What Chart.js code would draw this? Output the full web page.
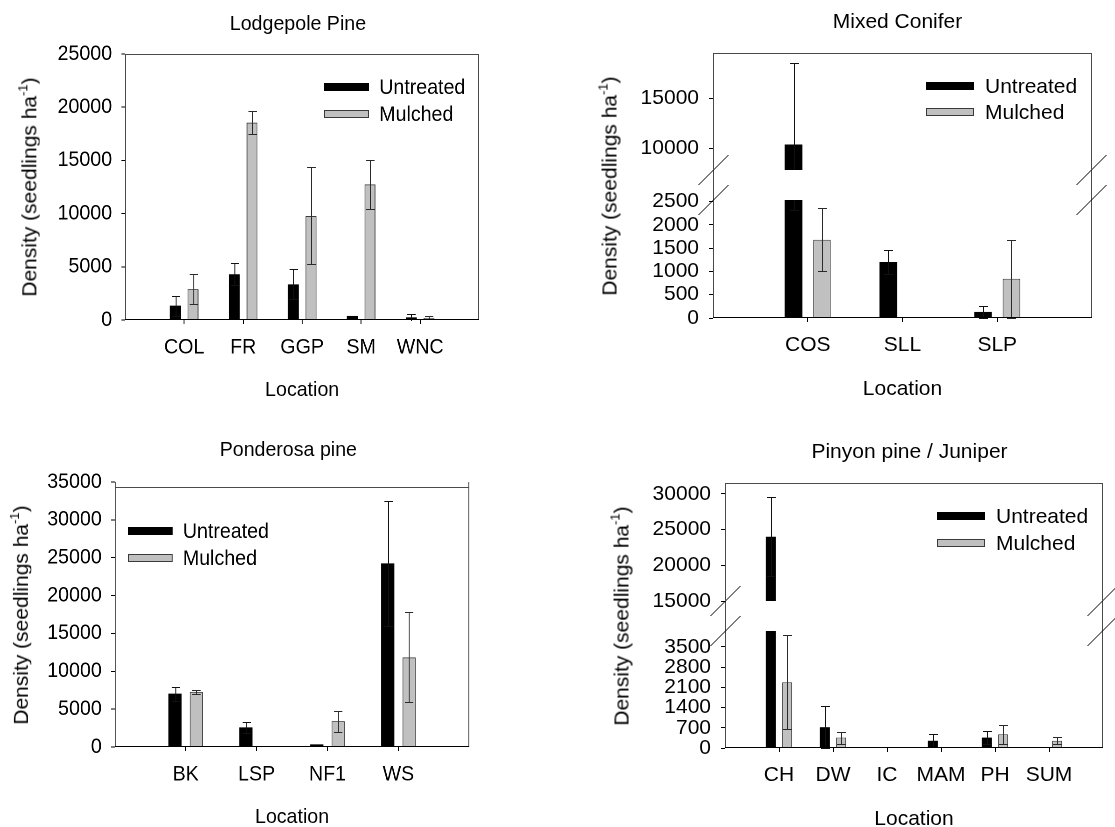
<!DOCTYPE html>
<html><head><meta charset="utf-8">
<script src="https://cdn.jsdelivr.net/npm/chart.js@4.4.1/dist/chart.umd.min.js"></script>
<style>
html,body{margin:0;padding:0;background:#fff;overflow:hidden;width:1115px;height:827px;}
#fig{position:relative;width:1115px;height:827px;overflow:hidden;}
.grp{position:absolute;left:0;top:0;width:1115px;height:827px;transform-origin:0 0;}
canvas{position:absolute;}
.t{position:absolute;font-family:'Liberation Sans',Arial,Helvetica,sans-serif;font-size:21px;line-height:1;color:#000;white-space:nowrap;transform:translate(-50%,-50%);}
.yt{transform:translate(-50%,-50%) rotate(-90deg);}
.sup{font-size:13px;position:relative;top:-9px;}
</style></head><body><div id="fig"></div>
<script>
// ---------------- data ----------------
const seriesNames = ['Untreated', 'Mulched'];

const lpCategories = ['COL', 'FR', 'GGP', 'SM', 'WNC'];
const lpUntreated = [1350, 4300, 3350, 380, 250];
const lpUntreatedErr = [950, 1050, 1400, 0, 300];
const lpMulched = [2900, 18550, 9780, 12750, 200];
const lpMulchedErr = [1400, 1080, 4560, 2300, 130];
const lpRange = [0, 25000];
const lpTicks = [0, 5000, 10000, 15000, 20000, 25000];

const mcCategories = ['COS', 'SLL', 'SLP'];
const mcUntreated = [10400, 1200, 130];
const mcUntreatedErr = [8090, 250, 120];
const mcMulched = [1680, 0, 840];
const mcMulchedErr = [670, 0, 840];
const mcUpperRange = [7860, 19480];
const mcUpperTicks = [10000, 15000];
const mcLowerRange = [0, 2530];
const mcLowerTicks = [0, 500, 1000, 1500, 2000, 2500];

const ppCategories = ['BK', 'LSP', 'NF1', 'WS'];
const ppUntreated = [7050, 2600, 350, 24250];
const ppUntreatedErr = [930, 700, 0, 8300];
const ppMulched = [7280, 0, 3420, 11830];
const ppMulchedErr = [310, 0, 1400, 5950];
const ppRange = [0, 35000];
const ppTicks = [0, 5000, 10000, 15000, 20000, 25000, 30000, 35000];

const pjCategories = ['CH', 'DW', 'IC', 'MAM', 'PH', 'SUM'];
const pjUntreated = [24000, 720, 0, 250, 360, 0];
const pjUntreatedErr = [5500, 730, 0, 230, 230, 0];
const pjMulched = [2280, 360, 0, 0, 480, 250];
const pjMulchedErr = [1620, 210, 0, 0, 330, 115];
const pjUpperRange = [15000, 31500];
const pjUpperTicks = [15000, 20000, 25000, 30000];
const pjLowerRange = [0, 4050];
const pjLowerTicks = [0, 700, 1400, 2100, 2800, 3500];

// ---------------- styling ----------------
const FONT = "'Liberation Sans', Arial, Helvetica, sans-serif";
const FS = 21;
const YW = 110, XH = 50;
const BLACK = '#000000', GRAY_FILL = '#c0c0c0', GRAY_EDGE = '#3a3a3a', FRAME = '#4a4a4a';
const fig = document.getElementById('fig');

function addGroup(sx) {
  const g = document.createElement('div');
  g.className = 'grp';
  g.style.transform = 'scaleX(' + sx + ')';
  fig.appendChild(g);
  return g;
}
function addCanvas(parent, left, top, w, h) {
  const c = document.createElement('canvas');
  c.width = w; c.height = h;
  c.style.left = left + 'px'; c.style.top = top + 'px';
  c.style.width = w + 'px'; c.style.height = h + 'px';
  parent.appendChild(c);
  return c;
}
function addText(parent, txt, x, y, cls) {
  const d = document.createElement('div');
  d.className = 't' + (cls ? ' ' + cls : '');
  d.style.left = x + 'px'; d.style.top = y + 'px';
  d.innerHTML = txt;
  parent.appendChild(d);
}

function panel(parent, cfg) {
  const {box, cats, un, unErr, mu, muErr, range, ticks, showX, gap = 0, topOffset = 0, drawTop = true, legend = null, dpr = 1} = cfg;
  const padTop = 30 + gap, padRight = 25, padBottom = showX ? 0 : 30;
  const w = box.R - box.L, h = box.B - box.T;
  const cw = YW + w + padRight, ch = padTop + h + (showX ? XH : padBottom);
  const canvas = addCanvas(parent, box.L - YW, box.T - padTop, cw, ch);
  const labels = ['', ...cats, ''];
  const padA = arr => [null, ...arr, null];
  const nL = labels.length;

  const errorPlugin = {
    id: 'errbars',
    afterDatasetsDraw(chart) {
      const {ctx, chartArea: a} = chart; const ys = chart.scales.y;
      ctx.save();
      ctx.beginPath(); ctx.rect(a.left - 6, a.top, a.right - a.left + 12, a.bottom - a.top + (showX ? 1 : 0)); ctx.clip();
      ctx.lineWidth = 1;
      chart.data.datasets.forEach((ds, di) => {
        const meta = chart.getDatasetMeta(di);
        ctx.strokeStyle = ds.errorColor;
        meta.data.forEach((bar, i) => {
          const v = ds.data[i], e = ds.errors[i];
          if (v == null || !e) return;
          const x = Math.round(bar.x) + 0.5;
          const y1 = Math.round(ys.getPixelForValue(v + e)) + 0.5;
          const y2 = Math.round(ys.getPixelForValue(v - e)) + 0.5;
          ctx.beginPath();
          ctx.moveTo(x, y1); ctx.lineTo(x, y2);
          ctx.moveTo(x - 4.5, y1); ctx.lineTo(x + 4.5, y1);
          ctx.moveTo(x - 4.5, y2); ctx.lineTo(x + 4.5, y2);
          ctx.stroke();
        });
      });
      ctx.restore();
    }
  };

  const framePlugin = {
    id: 'frame',
    afterDraw(chart) {
      const {ctx, chartArea: a} = chart;
      const L = Math.round(a.left) + 0.5, R = Math.round(a.right) - 0.5;
      const T = Math.round(a.top), B = Math.round(a.bottom) - 0.5;
      ctx.save();
      ctx.lineWidth = 1;
      ctx.strokeStyle = FRAME;
      ctx.beginPath();
      ctx.moveTo(L, T - gap); ctx.lineTo(L, B);
      ctx.moveTo(R, T - gap); ctx.lineTo(R, B);
      if (drawTop) { ctx.moveTo(L, T + topOffset + 0.5); ctx.lineTo(R, T + topOffset + 0.5); }
      ctx.stroke();
      if (showX) {
        ctx.strokeStyle = BLACK;
        ctx.beginPath(); ctx.moveTo(L - 0.5, B); ctx.lineTo(R + 0.5, B); ctx.stroke();
      }
      if (gap) {
        ctx.strokeStyle = BLACK;
        ctx.beginPath();
        [L, R].forEach(x => {
          [T, T - gap].forEach(y => { ctx.moveTo(x - 15, y + 15); ctx.lineTo(x + 15, y - 15); });
        });
        ctx.stroke();
      }
      if (legend) {
        chart.data.datasets.forEach((ds, i) => {
          const y = Math.round(a.top + legend.dy + i * legend.row);
          const bx = Math.round(legend.anchor === 'right' ? a.right + legend.dx : a.left + legend.dx);
          ctx.fillStyle = ds.borderColor;
          ctx.fillRect(bx, y - 4, 48, 8);
          ctx.fillStyle = ds.backgroundColor;
          if (ds.borderWidth) ctx.fillRect(bx + 1, y - 3, 46, 6);
          ctx.fillStyle = BLACK;
          ctx.font = FS + 'px ' + FONT;
          ctx.textBaseline = 'middle'; ctx.textAlign = 'left';
          ctx.fillText(ds.label, bx + 59, y + 1);
        });
      }
      ctx.restore();
    }
  };

  new Chart(canvas, {
    type: 'bar',
    data: {
      labels,
      datasets: [
        {label: seriesNames[0], data: padA(un), errors: padA(unErr), errorColor: '#111111',
         backgroundColor: BLACK, borderColor: BLACK, borderWidth: 0, clip: 0},
        {label: seriesNames[1], data: padA(mu), errors: padA(muErr), errorColor: '#2a2a2a',
         backgroundColor: GRAY_FILL, borderColor: GRAY_EDGE, borderWidth: 1, clip: 0}
      ]
    },
    options: {
      responsive: false, animation: false, devicePixelRatio: dpr,
      categoryPercentage: 0.6, barPercentage: 0.62,
      layout: {padding: {left: 0, top: padTop, right: padRight, bottom: padBottom}},
      plugins: {legend: {display: false}, tooltip: {enabled: false}, title: {display: false}},
      scales: {
        x: {
          type: 'category', display: showX, offset: false,
          grid: {offset: false, drawOnChartArea: false, drawTicks: true, tickLength: 4,
                 color: c => (c.index === 0 || c.index === nL - 1) ? 'rgba(0,0,0,0)' : BLACK},
          border: {display: false},
          ticks: {autoSkip: false, maxRotation: 0, padding: 11, color: BLACK, font: {family: FONT, size: FS}},
          afterFit: showX ? (s => { s.height = XH; }) : undefined
        },
        y: {
          type: 'linear', min: range[0], max: range[1],
          grid: {drawOnChartArea: false, drawTicks: true, tickLength: 4, color: BLACK},
          border: {display: false},
          ticks: {autoSkip: false, padding: 10, color: BLACK,
                  font: {family: FONT, size: FS}, callback: v => String(v)},
          afterBuildTicks: s => { s.ticks = ticks.map(v => ({value: v})); },
          afterFit: s => { s.width = YW; }
        }
      }
    },
    plugins: [errorPlugin, framePlugin]
  });
}

const YTITLE = 'Density (seedlings ha<span class="sup">-1</span>)';

// Panels 1 and 3 are horizontally compressed in the original figure
const g1 = addGroup(0.934);
const g3 = addGroup(0.933);
const g2 = addGroup(1);

// Panel 1: Lodgepole Pine
panel(g1, {box: {L: 134, R: 513, T: 54, B: 320}, cats: lpCategories, un: lpUntreated, unErr: lpUntreatedErr,
       mu: lpMulched, muErr: lpMulchedErr, range: lpRange, ticks: lpTicks, showX: true, dpr: 2,
       legend: {anchor: 'right', dx: -166, dy: 33, row: 26.5}});
addText(g1, 'Lodgepole Pine', 319, 21.7);
addText(g1, 'Location', 323.5, 388.3);
addText(g1, YTITLE, 30.5, 187, 'yt');

// Panel 2: Mixed Conifer (broken axis)
panel(g2, {box: {L: 713, R: 1092, T: 53, B: 170}, cats: mcCategories, un: mcUntreated, unErr: mcUntreatedErr,
       mu: mcMulched, muErr: mcMulchedErr, range: mcUpperRange, ticks: mcUpperTicks, showX: false,
       legend: {anchor: 'right', dx: -166, dy: 32.5, row: 26.5}});
panel(g2, {box: {L: 713, R: 1092, T: 200, B: 318}, cats: mcCategories, un: mcUntreated, unErr: mcUntreatedErr,
       mu: mcMulched, muErr: mcMulchedErr, range: mcLowerRange, ticks: mcLowerTicks, showX: true, gap: 30, drawTop: false});
addText(g2, 'Mixed Conifer', 897.5, 20);
addText(g2, 'Location', 902.5, 386.7);
addText(g2, YTITLE, 609, 185.5, 'yt');

// Panel 3: Ponderosa pine
panel(g3, {box: {L: 123, R: 503, T: 482, B: 747}, cats: ppCategories, un: ppUntreated, unErr: ppUntreatedErr,
       mu: ppMulched, muErr: ppMulchedErr, range: ppRange, ticks: ppTicks, showX: true, topOffset: 5, dpr: 2,
       legend: {anchor: 'left', dx: 14, dy: 49, row: 26.7}});
addText(g3, 'Ponderosa pine', 309, 448.3);
addText(g3, 'Location', 313, 815);
addText(g3, YTITLE, 21.5, 614.5, 'yt');

// Panel 4: Pinyon pine / Juniper (broken axis)
panel(g2, {box: {L: 725, R: 1103, T: 483, B: 601}, cats: pjCategories, un: pjUntreated, unErr: pjUntreatedErr,
       mu: pjMulched, muErr: pjMulchedErr, range: pjUpperRange, ticks: pjUpperTicks, showX: false,
       legend: {anchor: 'right', dx: -166, dy: 33, row: 26.6}});
panel(g2, {box: {L: 725, R: 1103, T: 631, B: 748}, cats: pjCategories, un: pjUntreated, unErr: pjUntreatedErr,
       mu: pjMulched, muErr: pjMulchedErr, range: pjLowerRange, ticks: pjLowerTicks, showX: true, gap: 30, drawTop: false});
addText(g2, 'Pinyon pine / Juniper', 909.5, 450);
addText(g2, 'Location', 914, 816.7);
addText(g2, YTITLE, 621, 615.5, 'yt');
</script></body></html>
